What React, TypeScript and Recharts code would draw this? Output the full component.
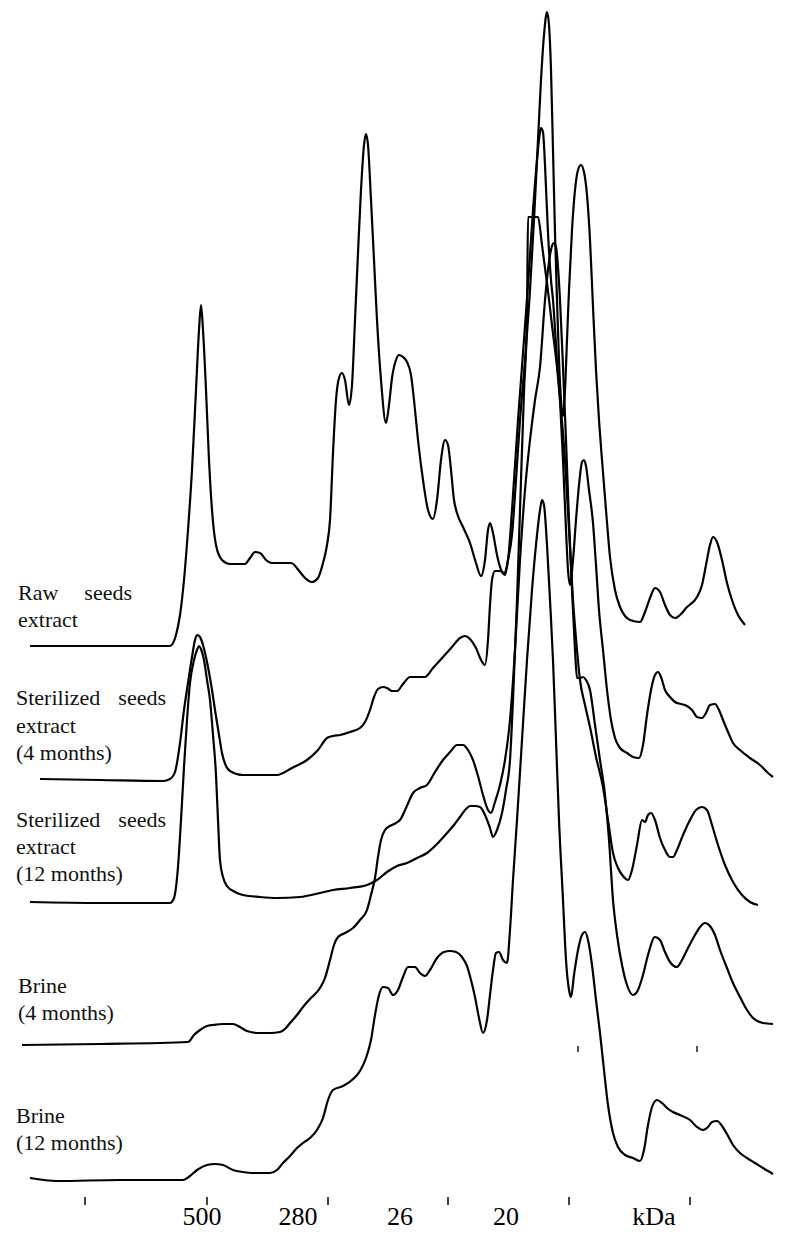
import React from 'react';
import { LineChart, Line, XAxis, YAxis, ReferenceLine } from 'recharts';

// densitometric scans of SDS-PAGE lanes, migration position vs band intensity
const traceNames = ['Raw seeds extract', 'Sterilized seeds extract (4 months)', 'Sterilized seeds extract (12 months)', 'Brine (4 months)', 'Brine (12 months)'];
const traceOffsets = [551, 417, 295, 152, 17];

const posRaw = [30, 100, 170, 176, 180, 184, 188, 192, 196, 199, 201, 203, 206, 209, 212, 216, 222, 230, 245, 250, 255, 260, 266, 272, 291, 300, 305, 312, 318, 323, 327, 330, 333, 336, 339, 342, 345, 349, 352, 355, 358, 361, 364, 366, 368, 371, 374, 377, 381, 386, 389, 392, 396, 399, 403, 407, 411, 414, 418, 423, 428, 433, 437, 441, 445, 448, 451, 454, 457, 463, 470, 476, 481, 485, 488, 490, 493, 497, 502, 505, 508, 512, 516, 520, 525, 530, 534, 538, 541, 544, 547, 549, 551, 553, 555, 557, 559, 561, 563, 565, 567, 569, 572, 575, 578, 581, 584, 587, 590, 593, 596, 599, 602, 606, 610, 615, 620, 625, 630, 640, 645, 650, 655, 660, 665, 670, 675, 680, 687, 697, 702, 706, 710, 713, 717, 722, 727, 733, 738, 745];
const intRaw = [0, 0, 0, 11, 31, 66, 116, 176, 256, 316, 341, 316, 256, 186, 136, 101, 86, 82, 82, 88, 94, 93, 86, 83, 83, 74, 68, 64, 68, 83, 101, 126, 193, 246, 268, 273, 266, 241, 261, 326, 393, 456, 501, 512, 501, 446, 386, 326, 266, 223, 241, 268, 286, 291, 289, 284, 271, 246, 206, 166, 136, 127, 146, 186, 206, 201, 176, 146, 133, 119, 103, 83, 70, 86, 116, 123, 113, 91, 74, 71, 86, 111, 166, 226, 286, 356, 426, 506, 566, 611, 634, 621, 576, 496, 413, 346, 286, 246, 230, 256, 306, 356, 416, 456, 476, 481, 474, 451, 406, 339, 276, 226, 186, 136, 89, 56, 39, 30, 26, 24, 34, 48, 58, 54, 41, 31, 28, 31, 39, 49, 61, 81, 101, 109, 104, 86, 63, 43, 31, 21];

const posSter4 = [40, 100, 163, 170, 175, 180, 184, 188, 192, 195, 197, 200, 203, 208, 212, 215, 219, 222, 226, 230, 243, 277, 292, 307, 318, 327, 333, 340, 350, 360, 365, 370, 374, 378, 383, 387, 392, 397, 403, 410, 417, 425, 433, 443, 452, 460, 465, 470, 476, 481, 485, 488, 490, 492, 495, 500, 504, 508, 512, 518, 524, 529, 533, 537, 540, 541, 543, 545, 548, 551, 553, 557, 560, 563, 566, 568, 570, 573, 576, 579, 582, 584, 586, 589, 593, 596, 599, 603, 607, 611, 615, 620, 627, 633, 639, 643, 647, 651, 655, 658, 661, 665, 670, 675, 681, 687, 692, 697, 702, 706, 710, 715, 719, 723, 728, 733, 740, 750, 760, 768, 773];
const intSter4 = [1, 0, -1, 1, 8, 37, 70, 97, 123, 140, 145, 143, 135, 113, 90, 70, 45, 27, 14, 9, 5, 5, 12, 20, 30, 42, 44, 45, 48, 52, 58, 70, 83, 91, 93, 92, 89, 89, 96, 103, 103, 103, 112, 123, 133, 142, 144, 141, 132, 120, 115, 140, 175, 200, 209, 209, 207, 220, 270, 360, 440, 510, 570, 620, 648, 652, 648, 615, 547, 500, 480, 420, 380, 320, 250, 210, 195, 220, 260, 295, 318, 320, 314, 290, 257, 215, 170, 130, 90, 60, 42, 32, 27, 23, 22, 35, 65, 90, 105, 108, 103, 90, 83, 78, 76, 74, 70, 63, 62, 67, 75, 76, 70, 60, 48, 37, 30, 22, 15, 7, 3];

const posSter12 = [30, 100, 170, 174, 178, 181, 184, 187, 190, 194, 197, 199, 201, 204, 207, 210, 213, 216, 218, 220, 223, 227, 235, 243, 260, 277, 300, 320, 333, 350, 367, 377, 387, 397, 407, 417, 427, 437, 447, 454, 460, 466, 470, 475, 480, 485, 490, 493, 497, 502, 506, 510, 513, 517, 521, 524, 527, 528, 538, 542, 547, 552, 557, 561, 565, 569, 573, 577, 580, 585, 590, 596, 603, 608, 613, 618, 623, 628, 632, 637, 642, 645, 648, 651, 655, 660, 665, 670, 673, 677, 683, 690, 696, 702, 707, 712, 718, 725, 733, 742, 750, 758];
const intSter12 = [0, -1, -1, 4, 35, 82, 135, 182, 219, 242, 252, 256, 253, 242, 222, 202, 167, 127, 82, 42, 25, 16, 10, 7, 5, 4, 5, 9, 12, 14, 17, 22, 30, 36, 39, 44, 49, 58, 69, 77, 85, 93, 96, 96, 95, 87, 74, 65, 72, 89, 112, 142, 202, 302, 422, 510, 585, 685, 685, 657, 619, 577, 535, 492, 442, 372, 302, 252, 222, 197, 175, 145, 115, 82, 49, 34, 26, 22, 32, 57, 82, 80, 87, 89, 82, 64, 52, 45, 45, 52, 67, 82, 92, 95, 92, 77, 57, 37, 20, 7, 0, -3];

const posBrine4 = [22, 100, 188, 194, 200, 207, 213, 223, 233, 240, 247, 258, 270, 280, 285, 290, 297, 303, 310, 320, 325, 330, 334, 338, 345, 353, 360, 367, 371, 375, 378, 381, 385, 390, 396, 400, 406, 413, 420, 427, 435, 443, 450, 457, 463, 468, 473, 478, 483, 488, 491, 495, 500, 505, 510, 515, 520, 525, 530, 535, 540, 545, 549, 552, 554, 556, 560, 563, 566, 569, 572, 575, 577, 580, 583, 586, 590, 595, 600, 605, 609, 613, 617, 622, 627, 633, 638, 643, 648, 655, 660, 665, 670, 677, 682, 688, 695, 700, 705, 710, 715, 720, 727, 733, 740, 747, 753, 763, 773];
const intBrine4 = [0, 1, 3, 10, 15, 19, 20, 21, 21, 18, 14, 12, 12, 13, 16, 22, 30, 38, 46, 57, 67, 85, 100, 108, 112, 117, 125, 135, 150, 167, 188, 205, 215, 219, 222, 225, 237, 252, 257, 260, 273, 285, 293, 300, 300, 295, 285, 269, 250, 235, 232, 243, 260, 285, 325, 395, 485, 555, 605, 645, 678, 745, 783, 799, 802, 798, 745, 678, 605, 525, 455, 395, 367, 367, 368, 365, 355, 320, 285, 250, 205, 145, 110, 80, 60, 50, 55, 70, 90, 108, 105, 93, 83, 78, 85, 97, 110, 118, 122, 119, 110, 95, 77, 62, 48, 35, 27, 22, 21];

const posBrine12 = [30, 57, 120, 183, 190, 197, 207, 215, 223, 233, 243, 253, 270, 277, 283, 290, 297, 303, 310, 317, 323, 328, 333, 343, 352, 360, 366, 371, 375, 379, 383, 388, 393, 398, 403, 408, 415, 420, 425, 430, 437, 444, 450, 456, 462, 467, 471, 475, 479, 483, 487, 490, 493, 496, 499, 503, 507, 510, 513, 517, 522, 527, 532, 536, 540, 542, 544, 547, 550, 553, 556, 559, 563, 566, 569, 571, 574, 578, 582, 585, 588, 592, 596, 600, 604, 608, 613, 618, 625, 633, 640, 644, 648, 652, 657, 662, 667, 673, 680, 690, 697, 703, 708, 712, 717, 722, 727, 733, 740, 747, 755, 763, 773];
const intBrine12 = [2, -1, 0, 0, 4, 10, 15, 16, 15, 10, 8, 7, 7, 10, 17, 24, 32, 37, 42, 50, 62, 80, 90, 94, 100, 109, 122, 140, 165, 185, 193, 192, 185, 190, 203, 213, 213, 207, 204, 210, 222, 228, 229, 228, 223, 214, 200, 183, 162, 147, 160, 185, 210, 227, 228, 220, 217, 250, 300, 360, 440, 520, 590, 635, 670, 680, 675, 635, 580, 520, 440, 360, 280, 220, 190, 183, 205, 230, 245, 248, 240, 215, 180, 147, 110, 75, 47, 33, 25, 22, 19, 30, 55, 73, 80, 77, 72, 68, 65, 60, 53, 50, 53, 58, 59, 54, 46, 35, 27, 22, 17, 12, 6];

// molecular weight marker positions along the gel
const markerTicks = [85, 207, 328, 448, 569, 690];
const markerLabelPos = [202, 298, 400, 506, 654];
const markerLabels = ['500', '280', '26', '20', 'kDa'];
// faint lane marks between the brine traces
const laneMarks = [578, 697];

const positions = [posRaw, posSter4, posSter12, posBrine4, posBrine12];
const intensities = [intRaw, intSter4, intSter12, intBrine4, intBrine12];

const series = traceNames.map((name, i) => ({
  name,
  data: positions[i].map((x, j) => ({ x, v: traceOffsets[i] + intensities[i][j] })),
}));

const serif = "'Liberation Serif', 'Times New Roman', Times, serif";

function Overlay() {
  const t = { fontSize: 22, fill: '#111', fontFamily: serif };
  const a = { fontSize: 26, fill: '#000', textAnchor: 'middle' as const, fontFamily: serif };
  return (
    <svg width={799} height={1246} style={{ position: 'absolute', left: 0, top: 0, pointerEvents: 'none' }}>
      <text {...t} x={18} y={600}>Raw</text>
      <text {...t} x={132} y={600} textAnchor="end">seeds</text>
      <text {...t} x={18} y={627}>extract</text>

      <text {...t} x={16} y={705}>Sterilized</text>
      <text {...t} x={166} y={705} textAnchor="end">seeds</text>
      <text {...t} x={16} y={733}>extract</text>
      <text {...t} x={16} y={760}>(4 months)</text>

      <text {...t} x={16} y={827}>Sterilized</text>
      <text {...t} x={166} y={827} textAnchor="end">seeds</text>
      <text {...t} x={16} y={854}>extract</text>
      <text {...t} x={16} y={881}>(12 months)</text>

      <text {...t} x={18} y={993}>Brine</text>
      <text {...t} x={18} y={1020}>(4 months)</text>

      <text {...t} x={16} y={1123}>Brine</text>
      <text {...t} x={16} y={1150}>(12 months)</text>

      {markerLabels.map((l, i) => (
        <text key={l} {...a} x={markerLabelPos[i]} y={1225}>{l}</text>
      ))}
    </svg>
  );
}

export default function App() {
  return (
    <div style={{ position: 'absolute', left: 0, top: 0, width: 799, height: 1246, background: '#fff' }}>
      <LineChart width={799} height={1246} margin={{ top: 0, right: 0, bottom: 0, left: 0 }}>
        <XAxis
          type="number"
          dataKey="x"
          domain={[0, 799]}
          ticks={markerTicks}
          height={49}
          axisLine={false}
          tickSize={8}
          tickLine={{ stroke: '#444', strokeWidth: 2 }}
          tickFormatter={() => ''}
          allowDataOverflow
        />
        <YAxis type="number" domain={[0, 1197]} hide allowDataOverflow />
        {laneMarks.map((m) => (
          <ReferenceLine key={m} segment={[{ x: m, y: 145 }, { x: m, y: 151 }]} stroke="#555" strokeWidth={2} />
        ))}
        {series.map((s) => (
          <Line
            key={s.name}
            name={s.name}
            data={s.data}
            dataKey="v"
            type="monotone"
            stroke="#000"
            strokeWidth={2.2}
            strokeLinejoin="round"
            dot={false}
            activeDot={false}
            isAnimationActive={false}
          />
        ))}
      </LineChart>
      <Overlay />
    </div>
  );
}
